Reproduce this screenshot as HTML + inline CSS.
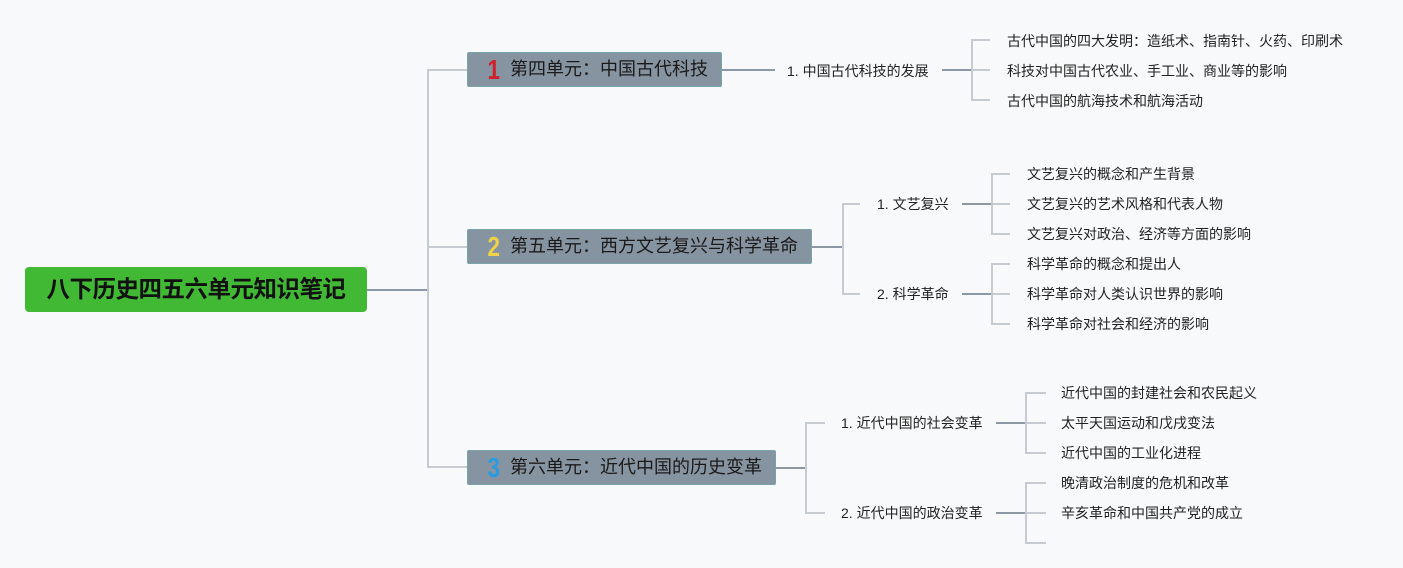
<!DOCTYPE html>
<html><head><meta charset="utf-8"><style>
body{margin:0;width:1403px;height:568px;background:#f8f9fa;position:relative;overflow:hidden;font-family:"Liberation Sans","Noto Sans CJK SC",sans-serif;}
.t{position:absolute;white-space:nowrap;color:#222;line-height:20px;}
.root{position:absolute;left:25px;top:267px;width:342px;height:45px;background:#42b935;border-radius:4px;color:#111;font-weight:bold;font-size:23.5px;line-height:45px;text-align:center;letter-spacing:-0.5px}
.u{position:absolute;height:35px;background:#8693a0;border:1px solid #7aa3a8;border-radius:2px;box-sizing:border-box;color:#1a1a1a;font-size:18px;line-height:33px;padding-left:42px;}
.n{position:absolute;left:18px;top:0;font-weight:bold;font-size:28px;line-height:33px;transform:scaleX(0.8)}
.s{font-size:14px}
</style></head><body>
<svg width="1403" height="568" style="position:absolute;left:0;top:0" fill="none" stroke-width="2">
<g stroke="#8c98a6"><path d="M367 290H428"/><path d="M722 70H775"/><path d="M942 70H972"/><path d="M812 247H843"/><path d="M962 204H992"/><path d="M962 294H992"/><path d="M776 468H806"/><path d="M996 423H1026"/><path d="M996 513H1026"/></g>
<g stroke="#c5cbd1"><path d="M467 70H428V467H467M428 247H467"/>
<path d="M990 40H972V100H990M972 70H990"/>
<path d="M860 204H843V294H860"/>
<path d="M1010 174H992V234H1010M992 204H1010"/>
<path d="M1010 264H992V324H1010M992 294H1010"/>
<path d="M825 423H806V513H825"/>
<path d="M1046 393H1026V453H1046M1026 423H1046"/>
<path d="M1046 483H1026V543H1046M1026 513H1046"/></g>
</svg>
<div class="root">八下历史四五六单元知识笔记</div>
<div class="u" style="left:467px;top:52px;width:255px"><span class="n" style="color:#d0202c">1</span>第四单元：中国古代科技</div>
<div class="u" style="left:467px;top:229px;width:345px"><span class="n" style="color:#f0d14a">2</span>第五单元：西方文艺复兴与科学革命</div>
<div class="u" style="left:467px;top:450px;width:309px"><span class="n" style="color:#2a9be0">3</span>第六单元：近代中国的历史变革</div>
<div class="t s" style="left:787px;top:61px">1. 中国古代科技的发展</div>
<div class="t s" style="left:1007px;top:31px">古代中国的四大发明：造纸术、指南针、火药、印刷术</div>
<div class="t s" style="left:1007px;top:61px">科技对中国古代农业、手工业、商业等的影响</div>
<div class="t s" style="left:1007px;top:91px">古代中国的航海技术和航海活动</div>
<div class="t s" style="left:877px;top:194px">1. 文艺复兴</div>
<div class="t s" style="left:877px;top:284px">2. 科学革命</div>
<div class="t s" style="left:1027px;top:164px">文艺复兴的概念和产生背景</div>
<div class="t s" style="left:1027px;top:194px">文艺复兴的艺术风格和代表人物</div>
<div class="t s" style="left:1027px;top:224px">文艺复兴对政治、经济等方面的影响</div>
<div class="t s" style="left:1027px;top:254px">科学革命的概念和提出人</div>
<div class="t s" style="left:1027px;top:284px">科学革命对人类认识世界的影响</div>
<div class="t s" style="left:1027px;top:314px">科学革命对社会和经济的影响</div>
<div class="t s" style="left:841px;top:413px">1. 近代中国的社会变革</div>
<div class="t s" style="left:841px;top:503px">2. 近代中国的政治变革</div>
<div class="t s" style="left:1061px;top:383px">近代中国的封建社会和农民起义</div>
<div class="t s" style="left:1061px;top:413px">太平天国运动和戊戌变法</div>
<div class="t s" style="left:1061px;top:443px">近代中国的工业化进程</div>
<div class="t s" style="left:1061px;top:473px">晚清政治制度的危机和改革</div>
<div class="t s" style="left:1061px;top:503px">辛亥革命和中国共产党的成立</div>
</body></html>
